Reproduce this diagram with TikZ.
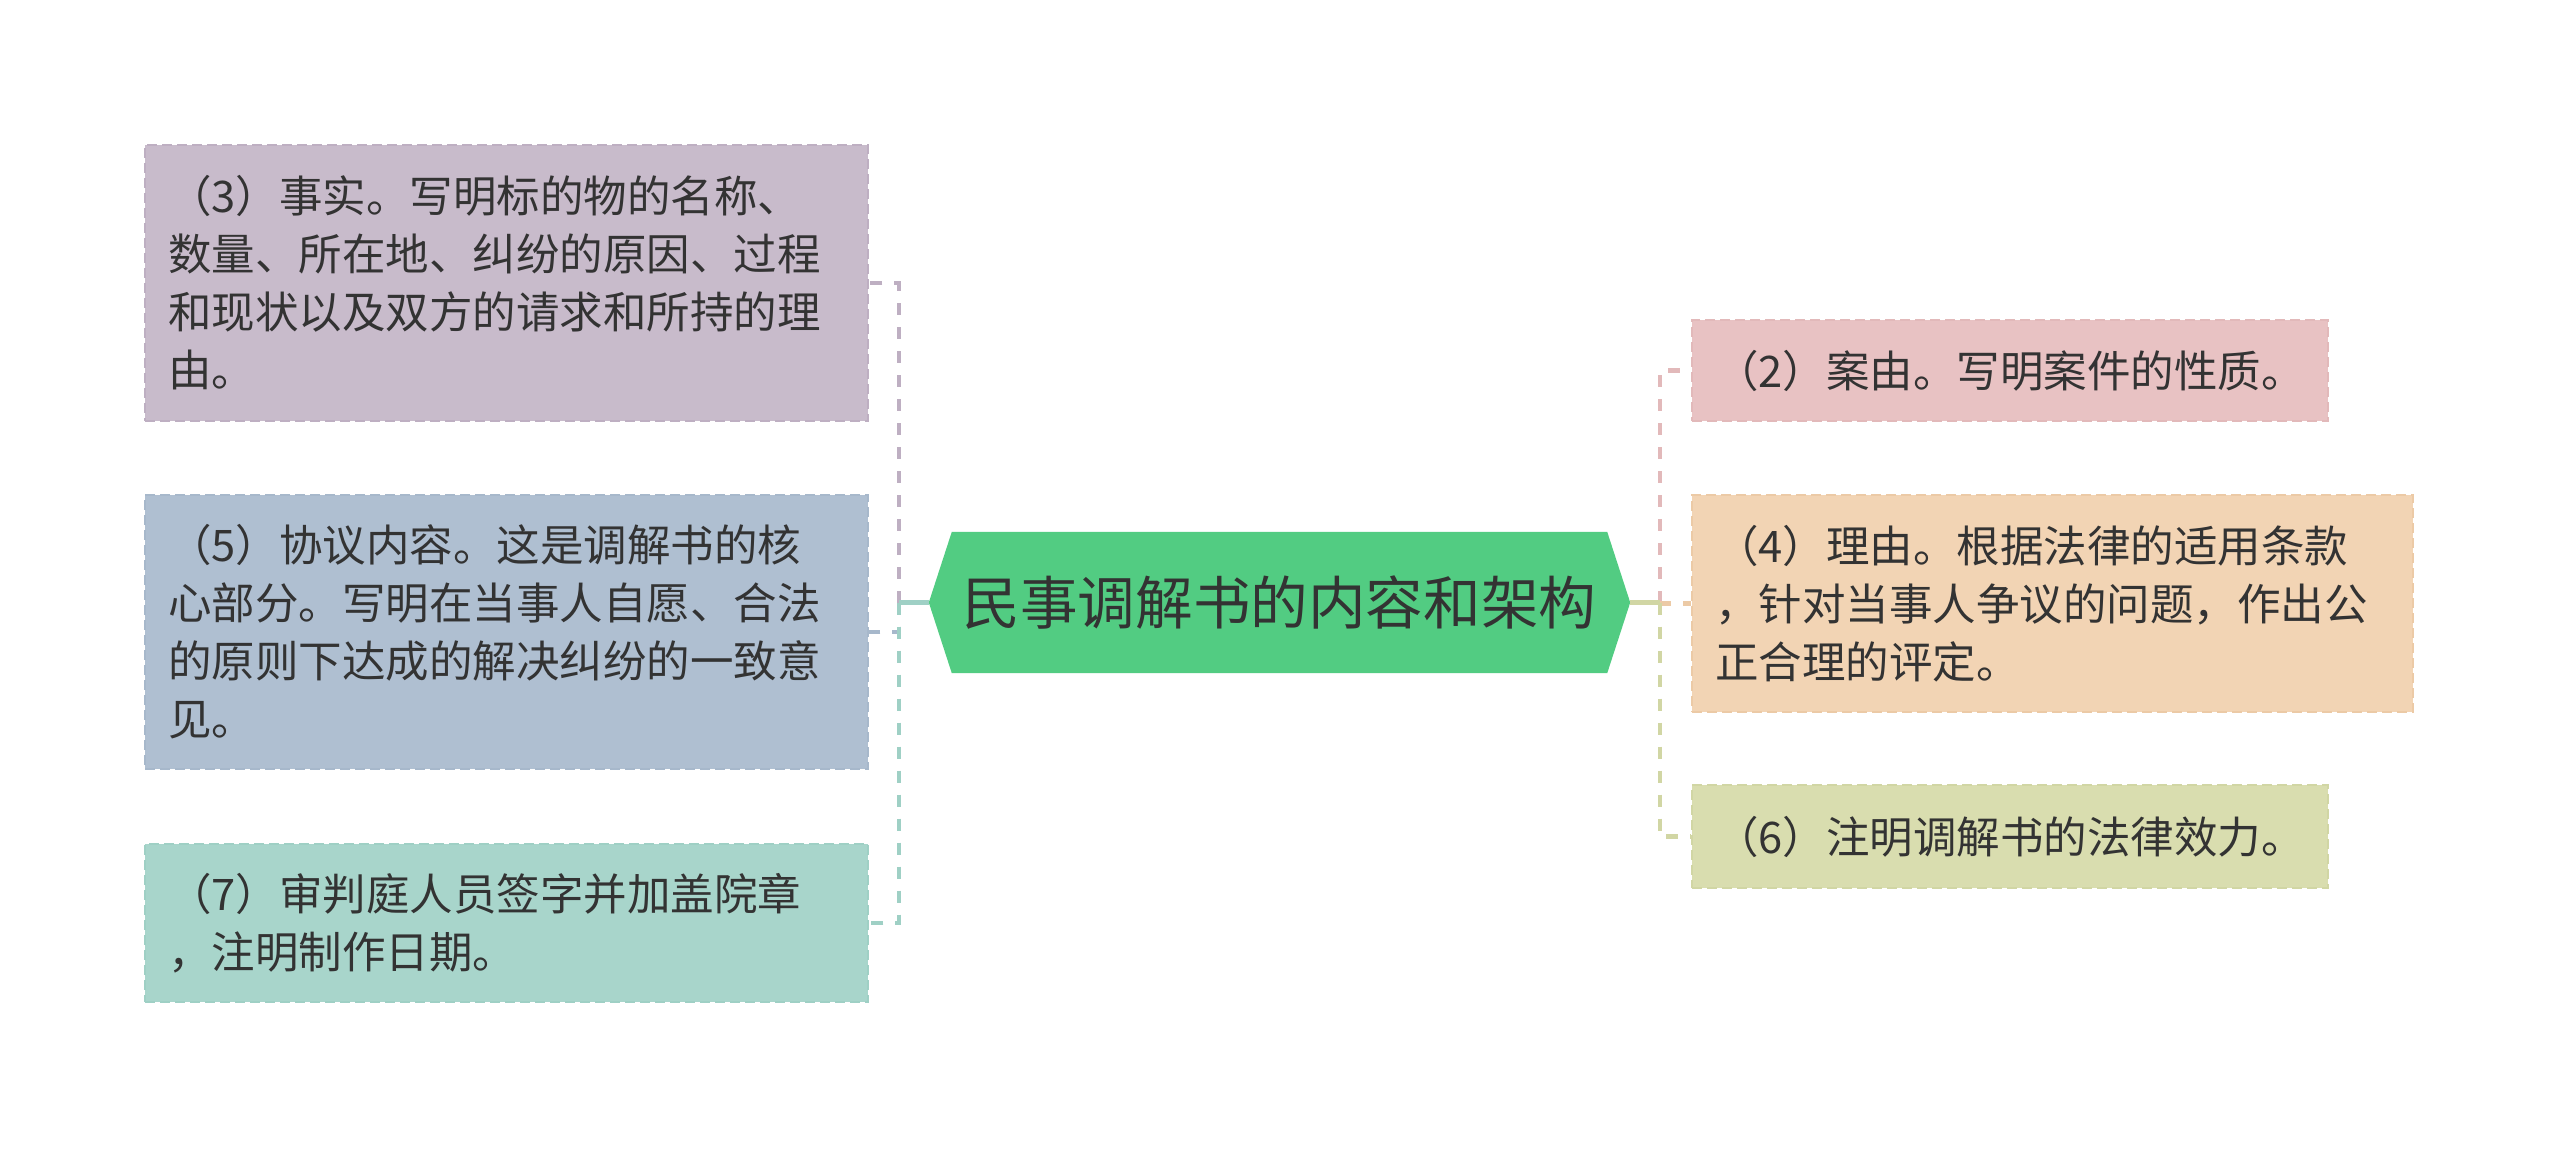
\documentclass[tikz,border=0pt]{standalone}
\usepackage{fontspec}
\setmainfont{Noto Sans CJK SC}
\usetikzlibrary{calc,backgrounds}
\definecolor{txt}{HTML}{333333}
\definecolor{hexg}{HTML}{52CC82}
\definecolor{cAf}{HTML}{C8BBCB}\definecolor{cAl}{HTML}{BEAFC2}
\definecolor{cBf}{HTML}{AFBFD1}\definecolor{cBl}{HTML}{A7B8CB}
\definecolor{cCf}{HTML}{A8D5CB}\definecolor{cCl}{HTML}{9FD0C5}
\definecolor{cDf}{HTML}{E8C2C3}\definecolor{cDl}{HTML}{E2B9BA}
\definecolor{cEf}{HTML}{F2D4B4}\definecolor{cEl}{HTML}{ECCAA6}
\definecolor{cFf}{HTML}{D9DDAF}\definecolor{cFl}{HTML}{D1D6A4}
\begin{document}
\begin{tikzpicture}[x=1pt,y=-1pt,
  leaf/.style={rectangle, inner xsep=23pt, inner ysep=0pt, align=left,
    text=txt, font=\fontsize{43.5pt}{58pt}\selectfont,
    line width=2pt, dash pattern=on 10pt off 5pt},
  link/.style={line width=4.5pt, dash pattern=on 12pt off 12pt},
  trunk/.style={line width=4.5pt},
  hub/.style={rectangle, inner sep=0pt, minimum width=701pt, minimum height=141pt,
    text=txt, font=\fontsize{57.6pt}{64pt}\selectfont}]
\useasboundingbox (0,0) rectangle (2560,1149);

% center
\node[hub] (c) at (1279.5,602.5) {民事调解书的内容和架构};
\begin{scope}[on background layer]
\fill[white] (0,0) rectangle (2560,1149);
\fill[hexg] (c.west) -- ($(c.north west)+(23,0)$) -- ($(c.north east)+(-23,0)$)
  -- (c.east) -- ($(c.south east)+(-23,0)$) -- ($(c.south west)+(23,0)$) -- cycle;
\end{scope}

% left leaves
\node[leaf, fill=cAf, draw=cAl, text width=677pt, minimum height=276pt] (b3) at (506.5,283)
  {（3）事实。写明标的物的名称、\\数量、所在地、纠纷的原因、过程\\和现状以及双方的请求和所持的理\\由。};
\node[leaf, fill=cBf, draw=cBl, text width=677pt, minimum height=274pt] (b5) at (506.5,632)
  {（5）协议内容。这是调解书的核\\心部分。写明在当事人自愿、合法\\的原则下达成的解决纠纷的一致意\\见。};
\node[leaf, fill=cCf, draw=cCl, text width=677pt, minimum height=158pt] (b7) at (506.5,923)
  {（7）审判庭人员签字并加盖院章\\，注明制作日期。};

% right leaves
\node[leaf, fill=cDf, draw=cDl, text width=590pt, minimum height=101pt] (b2) at (2010,370.5)
  {（2）案由。写明案件的性质。};
\node[leaf, fill=cEf, draw=cEl, text width=675pt, minimum height=217pt] (b4) at (2052.5,603.5)
  {（4）理由。根据法律的适用条款\\，针对当事人争议的问题，作出公\\正合理的评定。};
\node[leaf, fill=cFf, draw=cFl, text width=590pt, minimum height=103pt] (b6) at (2010,836.5)
  {（6）注明调解书的法律效力。};

% connectors
\coordinate (lx) at ($(c.west)+(-30,0)$);
\coordinate (rx) at ($(c.east)+(30,0)$);
\draw[link, cAl] (lx) |- (b3.east);
\draw[trunk, cAl] (c.west) -- (lx);
\draw[link, cBl] (lx) |- (b5.east);
\draw[trunk, cBl] (c.west) -- (lx);
\draw[link, cCl] (lx) |- (b7.east);
\draw[trunk, cCl] (c.west) -- (lx);
\draw[link, cDl] (rx) |- (b2.west);
\draw[trunk, cDl] (c.east) -- (rx);
\draw[link, cEl] (rx) |- (b4.west);
\draw[trunk, cEl] (c.east) -- (rx);
\draw[link, cFl] (rx) |- (b6.west);
\draw[trunk, cFl] (c.east) -- (rx);
\end{tikzpicture}
\end{document}
